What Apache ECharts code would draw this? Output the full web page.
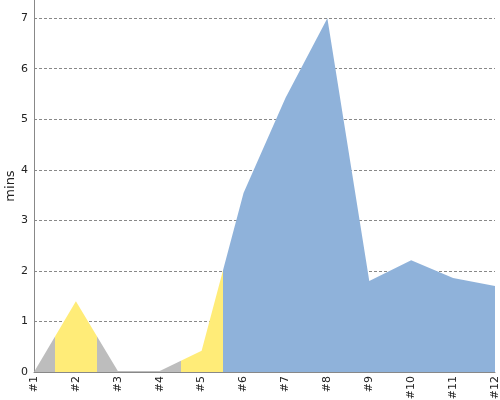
<!DOCTYPE html>
<html><head><meta charset="utf-8">
<script src="https://cdn.jsdelivr.net/npm/echarts@6/dist/echarts.min.js"></script>
<style>html,body{margin:0;padding:0;background:#fff}#c{width:500px;height:400px}</style>
</head><body><div id="c"></div>
<script>
var categories = ['#1','#2','#3','#4','#5','#6','#7','#8','#9','#10','#11','#12'];
var minutes = [0, 1.40, 0.02, 0.02, 0.42, 3.54, 5.42, 7.0, 1.80, 2.21, 1.86, 1.70];
var yTicks = [0,1,2,3,4,5,6,7];

var seriesData = minutes.map(function (v, i) { return [i, v]; });

var chart = echarts.init(document.getElementById('c'));
chart.setOption({
  animation: false,
  grid: {left: 34, right: 5, top: 0, bottom: 28, outerBoundsMode: 'none', containLabel: false},
  xAxis: {
    type: 'value', min: 0, max: categories.length - 1, interval: 1,
    axisLine: {lineStyle: {color: '#888'}},
    axisTick: {show: false},
    splitLine: {show: false},
    axisLabel: {rotate: 90, color: '#222', fontSize: 11, fontFamily: 'DejaVu Sans', margin: 4,
      formatter: function (v) { return categories[v] || ''; }}
  },
  yAxis: {
    type: 'value', min: 0, max: 7.36, interval: 1,
    name: 'mins', nameLocation: 'middle', nameGap: 17, nameMoveOverlap: false,
    nameTextStyle: {color: '#222', fontSize: 13, fontFamily: 'DejaVu Sans'},
    axisLine: {show: true, lineStyle: {color: '#888'}},
    axisTick: {show: false},
    showMaxLabel: false,
    axisLabel: {color: '#222', fontSize: 11, fontFamily: 'DejaVu Sans', margin: 6,
      formatter: function (v) { return yTicks.indexOf(v) >= 0 ? String(v) : ''; }},
    splitLine: {showMaxLine: false, lineStyle: {color: '#888', type: [3, 2], width: 1}}
  },
  visualMap: {
    type: 'piecewise', show: false, dimension: 0, seriesIndex: 0,
    pieces: [
      {lt: 0.5, color: '#bdbdbd'},
      {gte: 0.5, lt: 1.5, color: '#ffec78'},
      {gte: 1.5, lt: 3.5, color: '#bdbdbd'},
      {gte: 3.5, lt: 4.5, color: '#ffec78'},
      {gte: 4.5, color: '#8fb2da'}
    ]
  },
  series: [{
    type: 'line', data: seriesData, symbol: 'none',
    lineStyle: {width: 0, opacity: 0},
    areaStyle: {opacity: 1}
  }]
});
</script></body></html>
